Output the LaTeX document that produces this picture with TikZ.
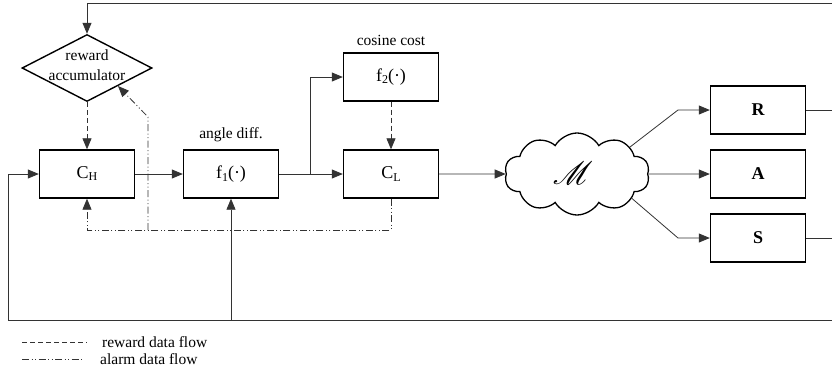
\documentclass[tikz,border=0pt]{standalone}
\usepackage{graphicx}
\usepackage{fontspec}
\setmainfont{Liberation Serif}
\usepackage{mathrsfs}
\usetikzlibrary{shapes.geometric,shapes.symbols,arrows.meta}
\tikzset{
  blk/.style={draw=black,line width=1.4pt,minimum width=95pt,minimum height=48pt,inner sep=0pt,font=\fontsize{18}{20}\selectfont},
  conn/.style={draw=black!80,line width=0.8pt},
  arr/.style={conn,-{Triangle[length=11pt,width=9pt]}},
  rwd/.style={dash pattern=on 5pt off 3pt},
  alm/.style={dash pattern=on 7pt off 2.5pt on 1pt off 2.5pt on 1pt off 2.5pt},
  lbl/.style={font=\fontsize{15.5}{18}\selectfont,inner sep=0pt}
}
\begin{document}
\begin{tikzpicture}[x=1pt,y=-1pt]
\useasboundingbox (0,0) rectangle (832,370);
\fill[white] (0,0) rectangle (832,370);
% nodes
\node[draw=black,line width=1.4pt,shape=diamond,minimum width=130pt,minimum height=67pt,inner sep=0pt] (acc) at (87,68) {};
\node[align=center,inner sep=0pt,font=\fontsize{15.5}{20}\selectfont] (acct) at (87,65) {reward\\accumulator};
\node[blk] (CH) at (87,174) {C\raisebox{-0.25ex}{\fontsize{12}{12}\selectfont H}};
\node[blk] (f1) at (231,174) {f\raisebox{-0.35ex}{\fontsize{12}{12}\selectfont 1}(·)};
\node[blk] (CL) at (391,174) {C\raisebox{-0.35ex}{\fontsize{12}{12}\selectfont L}};
\node[blk] (f2) at (391,77) {f\raisebox{-0.25ex}{\fontsize{12}{12}\selectfont 2}(·)};
\node[draw=black,line width=1.3pt,shape=cloud,cloud puffs=10,cloud puff arc=120,aspect=1.8,minimum width=145pt,minimum height=82pt,inner sep=0pt] (M) at (577,174) {};
\node[inner sep=0pt,font=\fontsize{24}{24}\selectfont] (Mt) at (573,173) {\scalebox{1.3}{$\mathscr{M}$}};
\node[blk,font=\fontsize{18}{20}\selectfont\bfseries] (R) at (758,110) {R};
\node[blk,font=\fontsize{18}{20}\selectfont\bfseries] (A) at (758,174) {A};
\node[blk,font=\fontsize{18}{20}\selectfont\bfseries] (S) at (758,238) {S};
% labels
\node[lbl] (lcos) at (391,40) {cosine cost};
\node[lbl] (lang) at (231,135) {angle diff.};
% coordinates
\coordinate (tr) at (837,110);
\coordinate (tt) at (837,3);
\coordinate (tl) at (87,3);
\coordinate (sr) at (837,238);
\coordinate (sb) at (837,320);
\coordinate (bl) at (8,320);
\coordinate (blu) at (8,174);
\coordinate (bj) at (231,320);
\coordinate (br) at (310,174);
\coordinate (bru) at (310,77);
\coordinate (kR) at (678,110);
\coordinate (kS) at (678,238);
\coordinate (aCL) at (391,230);
\coordinate (aCH) at (87,230);
\coordinate (aj) at (148,230);
\coordinate (aju) at (148,117);
\coordinate (atip) at (118,86);
% solid connectors
\draw[arr] (R.east) -- (tr) -- (tt) -- (tl) -- (acc.north);
\draw[arr] (S.east) -- (sr) -- (sb) -- (bl) -- (blu) -- (CH.west);
\draw[arr] (bj) -- (f1.south);
\draw[arr] (CH.east) -- (f1.west);
\draw[arr] (f1.east) -- (CL.west);
\draw[arr] (br) -- (bru) -- (f2.west);
\draw[arr] (CL.east) -- (M.west);
\draw[arr] (M.27) -- (kR) -- (R.west);
\draw[arr] (M.east) -- (A.west);
\draw[arr] (M.-24) -- (kS) -- (S.west);
% reward flow
\draw[arr,rwd] (acc.south) -- (CH.north);
\draw[arr,rwd] (f2.south) -- (CL.north);
% alarm flow
\draw[arr,alm] (CL.south) -- (aCL) -- (aCH) -- (CH.south);
\draw[arr,alm] (aj) -- (aju) -- (atip);
% legend
\coordinate (lg1a) at (22,342);
\coordinate (lg1b) at (87,342);
\coordinate (lg2a) at (22,359);
\coordinate (lg2b) at (84,359);
\draw[conn,rwd] (lg1a) -- (lg1b);
\draw[conn,alm] (lg2a) -- (lg2b);
\node[lbl,anchor=west] (t1) at (102,342) {reward data flow};
\node[lbl,anchor=west] (t2) at (100,359) {alarm data flow};
\end{tikzpicture}
\end{document}
